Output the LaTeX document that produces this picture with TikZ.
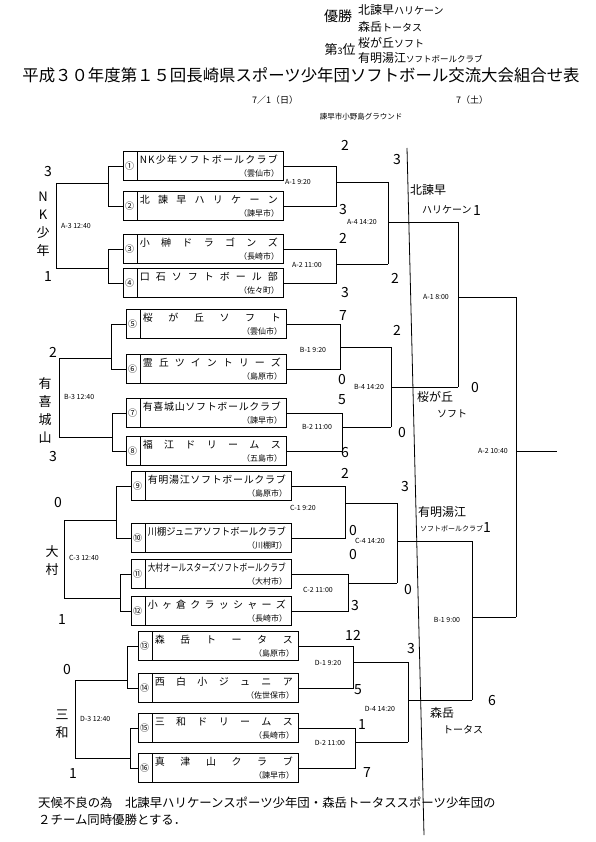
\documentclass[tikz,border=0pt]{standalone}
\usepackage{fontspec}
\usepackage{graphicx}
\setmainfont{Noto Sans CJK JP}
\newlength\tmpw
\def\spreadaux#1{\ifx\relax#1\else\hfil#1\expandafter\spreadaux\fi}
\def\spreadfirst#1{#1\spreadaux}
\newcommand\spreadname[1]{\makebox[138pt][s]{\spreadfirst#1\relax}}
\newcommand\tname[1]{\settowidth\tmpw{#1}\ifdim\tmpw>138pt\resizebox{138pt}{\height}{#1}\else\spreadname{#1}\fi}
\newcommand\teamrow[6]{%
  \node[teambox] (#1) at (#2,#3) {};
  \node[numlbl] (#1num) at ([xshift=7pt]#1.west) {#4};
  \node[namelbl,anchor=west] (#1name) at ([xshift=17pt,yshift=6pt]#1.west) {\tname{#5}};
  \node[citylbl,anchor=east] (#1city) at ([xshift=-4pt,yshift=-7pt]#1.east) {#6};
}
\begin{document}
\begin{tikzpicture}[x=1pt,y=-1pt,
  conn/.style={line width=0.8pt},
  teambox/.style={draw,line width=0.8pt,minimum width=160pt,minimum height=29pt,inner sep=0pt,
    path picture={\draw[line width=0.8pt] ([xshift=14pt]path picture bounding box.north west) -- ([xshift=14pt]path picture bounding box.south west);}},
  numlbl/.style={inner sep=0pt,font=\fontsize{9}{9}\selectfont},
  namelbl/.style={inner sep=0pt,font=\fontsize{10}{10}\selectfont},
  citylbl/.style={inner sep=0pt,font=\fontsize{8}{8}\selectfont},
  mlbl/.style={inner sep=0pt,font=\fontsize{7}{7}\selectfont},
  score/.style={inner sep=0pt,font=\fontsize{14}{14}\selectfont},
  vert/.style={inner sep=0pt,align=center,font=\fontsize{13}{18}\selectfont},
  hw/.style={inner sep=0pt,anchor=west},
]
\fill[white] (0,0) rectangle (595,842);
\useasboundingbox (0,0) rectangle (595,842);

% ---------- header ----------
\node[inner sep=0pt,font=\fontsize{14}{14}\selectfont] (yusho) at (338,16) {優勝};
\node[hw] (champA) at (358,10) {{\fontsize{12}{12}\selectfont 北諫早}{\fontsize{10}{10}\selectfont ハリケーン}};
\node[hw] (champB) at (358,27) {{\fontsize{12}{12}\selectfont 森岳}{\fontsize{10}{10}\selectfont トータス}};
\node[inner sep=0pt,font=\fontsize{13}{13}\selectfont] (third) at (340,50) {第{\fontsize{9}{9}\selectfont 3}位};
\node[hw] (thirdA) at (358,43) {{\fontsize{12}{12}\selectfont 桜が丘}{\fontsize{10}{10}\selectfont ソフト}};
\node[hw] (thirdB) at (358,58) {{\fontsize{12}{12}\selectfont 有明湯江}{\fontsize{8.5}{9}\selectfont ソフトボールクラブ}};
\node[inner sep=0pt,font=\fontsize{16.4}{17}\selectfont] (title) at (301,75) {平成３０年度第１５回長崎県スポーツ少年団ソフトボール交流大会組合せ表};
\node[inner sep=0pt,font=\fontsize{9}{9}\selectfont] (day1) at (275,100) {7／1（日）};
\node[inner sep=0pt,font=\fontsize{9}{9}\selectfont] (day2) at (472,100) {7（土）};
\node[inner sep=0pt,font=\fontsize{7.5}{8}\selectfont] (venue) at (361,117) {諫早市小野島グラウンド};

% ---------- day separator ----------
\coordinate (sepTop) at (407,148);
\coordinate (sepBot) at (424,835);
\draw[conn] (sepTop) -- (sepBot);

% ---------- teams ----------
\teamrow{t1}{203}{166}{①}{NK少年ソフトボールクラブ}{（雲仙市）}
\teamrow{t2}{203}{206}{②}{北諫早ハリケーン}{（諫早市）}
\teamrow{t3}{203}{249}{③}{小榊ドラゴンズ}{（長崎市）}
\teamrow{t4}{203}{283}{④}{口石ソフトボール部}{（佐々町）}
\teamrow{t5}{206}{324}{⑤}{桜が丘ソフト}{（雲仙市）}
\teamrow{t6}{206}{369}{⑥}{霊丘ツイントリーズ}{（島原市）}
\teamrow{t7}{206}{413}{⑦}{有喜城山ソフトボールクラブ}{（諫早市）}
\teamrow{t8}{206}{451}{⑧}{福江ドリームス}{（五島市）}
\teamrow{t9}{211}{486}{⑨}{有明湯江ソフトボールクラブ}{（島原市）}
\teamrow{t10}{211}{538}{⑩}{川棚ジュニアソフトボールクラブ}{（川棚町）}
\teamrow{t11}{211}{574}{⑪}{大村オールスターズソフトボールクラブ}{（大村市）}
\teamrow{t12}{211}{611}{⑫}{小ヶ倉クラッシャーズ}{（長崎市）}
\teamrow{t13}{218}{646}{⑬}{森岳トータス}{（島原市）}
\teamrow{t14}{218}{688}{⑭}{西白小ジュニア}{（佐世保市）}
\teamrow{t15}{218}{728}{⑮}{三和ドリームス}{（長崎市）}
\teamrow{t16}{218}{768}{⑯}{真津山クラブ}{（諫早市）}

% ---------- junction coordinates ----------
\coordinate (jA1) at (336,182); \coordinate (jA2) at (336,264); \coordinate (jA4) at (388,222);
\coordinate (jB1) at (340,347); \coordinate (jB2) at (342,427); \coordinate (jB4) at (391,387);
\coordinate (jC1) at (345,503); \coordinate (jC2) at (348,583); \coordinate (jC4) at (397,541);
\coordinate (jD1) at (353,662); \coordinate (jD2) at (355,742); \coordinate (jD4) at (408,700);
\coordinate (jS1) at (458,297); \coordinate (jS2) at (472,617);
\coordinate (jF) at (516,451); \coordinate (champ) at (557,451);
\coordinate (lA1) at (108,183); \coordinate (lA2) at (108,268); \coordinate (lA3) at (56,226);
\coordinate (lB1) at (111,358); \coordinate (lB2) at (112,437); \coordinate (lB3) at (59,397);
\coordinate (lC1) at (116,520); \coordinate (lC2) at (120,598); \coordinate (lC3) at (64,559);
\coordinate (lD1) at (127,680); \coordinate (lD2) at (130,758); \coordinate (lD3) at (75,719);

% ---------- main bracket (right) ----------
\foreach \a/\b/\j/\k in {t1/t2/jA1/jA4, t3/t4/jA2/jA4, t5/t6/jB1/jB4, t7/t8/jB2/jB4,
                         t9/t10/jC1/jC4, t11/t12/jC2/jC4, t13/t14/jD1/jD4, t15/t16/jD2/jD4}{
  \draw[conn] (\a.east) -- (\a.east -| \j) -- (\b.east -| \j) -- (\b.east);
  \draw[conn] (\j) -- (\j -| \k);
}
\foreach \a/\b/\j/\k in {jA1/jA2/jA4/jS1, jB1/jB2/jB4/jS1, jC1/jC2/jC4/jS2, jD1/jD2/jD4/jS2}{
  \draw[conn] (\a -| \j) -- (\b -| \j);
  \draw[conn] (\j) -- (\j -| \k);
}
\draw[conn] (jA4 -| jS1) -- (jB4 -| jS1);
\draw[conn] (jC4 -| jS2) -- (jD4 -| jS2);
\draw[conn] (jS1) -- (jS1 -| jF);
\draw[conn] (jS2) -- (jS2 -| jF);
\draw[conn] (jS1 -| jF) -- (jS2 -| jF);
\draw[conn] (jF) -- (champ);

% ---------- consolation brackets (left) ----------
\foreach \a/\b/\j/\k in {t1/t2/lA1/lA3, t3/t4/lA2/lA3, t5/t6/lB1/lB3, t7/t8/lB2/lB3,
                         t9/t10/lC1/lC3, t11/t12/lC2/lC3, t13/t14/lD1/lD3, t15/t16/lD2/lD3}{
  \draw[conn] (\a.west) -- (\a.west -| \j) -- (\b.west -| \j) -- (\b.west);
  \draw[conn] (\j) -- (\j -| \k);
}
\draw[conn] (lA1 -| lA3) -- (lA2 -| lA3);
\draw[conn] (lB1 -| lB3) -- (lB2 -| lB3);
\draw[conn] (lC1 -| lC3) -- (lC2 -| lC3);
\draw[conn] (lD1 -| lD3) -- (lD2 -| lD3);

% ---------- match labels ----------
\node[mlbl] (mA1) at (298,182) {A-1 9:20};
\node[mlbl] (mA2) at (307,265) {A-2 11:00};
\node[mlbl] (mA4) at (362,222) {A-4 14:20};
\node[mlbl,anchor=west] (mA3) at (61,226) {A-3 12:40};
\node[mlbl] (mB1) at (313,350) {B-1 9:20};
\node[mlbl] (mB2) at (317,427) {B-2 11:00};
\node[mlbl] (mB4) at (369,387) {B-4 14:20};
\node[mlbl,anchor=west] (mB3) at (64,397) {B-3 12:40};
\node[mlbl] (mC1) at (303,508) {C-1 9:20};
\node[mlbl] (mC2) at (318,590) {C-2 11:00};
\node[mlbl] (mC4) at (370,541) {C-4 14:20};
\node[mlbl,anchor=west] (mC3) at (69,558) {C-3 12:40};
\node[mlbl] (mD1) at (328,663) {D-1 9:20};
\node[mlbl] (mD2) at (330,743) {D-2 11:00};
\node[mlbl] (mD4) at (380,709) {D-4 14:20};
\node[mlbl,anchor=west] (mD3) at (80,719) {D-3 12:40};
\node[mlbl] (mS1) at (436,297) {A-1 8:00};
\node[mlbl] (mS2) at (447,620) {B-1 9:00};
\node[mlbl] (mF) at (493,451) {A-2 10:40};

% ---------- consolation winners (vertical) ----------
\node[vert] (wA) at (43,224) {N\\K\\少\\年};
\node[vert] (wB) at (45,410) {有\\喜\\城\\山};
\node[vert] (wC) at (52,561) {大\\村};
\node[vert] (wD) at (62,724) {三\\和};

% ---------- semifinal winners ----------
\node[hw,font=\fontsize{12}{12}\selectfont] (sw1a) at (410,190) {北諫早};
\node[hw,font=\fontsize{10}{10}\selectfont] (sw1b) at (422,210) {ハリケーン};
\node[hw,font=\fontsize{12}{12}\selectfont] (sw2a) at (417,397) {桜が丘};
\node[hw,font=\fontsize{10}{10}\selectfont] (sw2b) at (437,414) {ソフト};
\node[hw,font=\fontsize{12}{12}\selectfont] (sw3a) at (418,512) {有明湯江};
\node[hw,font=\fontsize{7}{7}\selectfont] (sw3b) at (420,529) {ソフトボールクラブ};
\node[hw,font=\fontsize{12}{12}\selectfont] (sw4a) at (430,713) {森岳};
\node[hw,font=\fontsize{10}{10}\selectfont] (sw4b) at (443,730) {トータス};

% ---------- scores ----------
\foreach \p/\s [count=\i] in {
  {(48,172)}/3, {(48,277)}/1, {(345,145)}/2, {(343,210)}/3, {(343,238)}/2, {(345,293)}/3, {(397,160)}/3, {(395,278)}/2,
  {(53,352)}/2, {(53,457)}/3, {(343,316)}/7, {(342,380)}/0, {(342,400)}/5, {(345,453)}/6, {(397,330)}/2, {(402,433)}/0,
  {(58,503)}/0, {(62,620)}/1, {(345,473)}/2, {(353,531)}/0, {(353,555)}/0, {(355,606)}/3, {(405,487)}/3, {(408,590)}/0,
  {(67,670)}/0, {(73,773)}/1, {(353,635)}/12, {(358,690)}/5, {(362,724)}/1, {(367,772)}/7, {(411,649)}/3,
  {(477,211)}/1, {(475,388)}/0, {(487,528)}/1, {(492,701)}/6}{
  \node[score] (sc\i) at \p {\s};
}

% ---------- note ----------
\node[hw,font=\fontsize{12.4}{13}\selectfont] (note1) at (38,803) {天候不良の為　北諫早ハリケーンスポーツ少年団・森岳トータススポーツ少年団の};
\node[hw,font=\fontsize{12.4}{13}\selectfont] (note2) at (38,820) {２チーム同時優勝とする．};
\end{tikzpicture}
\end{document}
